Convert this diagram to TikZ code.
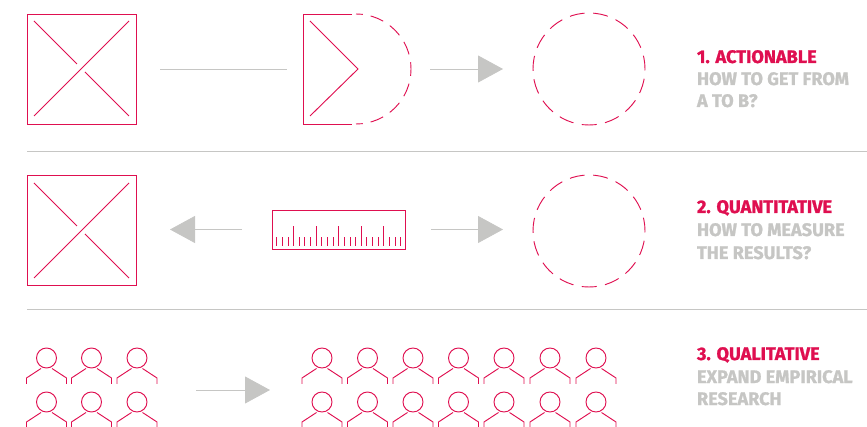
\documentclass[tikz,border=0pt]{standalone}
\usepackage{fontspec}
\setmainfont[BoldFeatures={FakeBold=1.2}]{Fira Sans}
\usepackage{xcolor}
\usetikzlibrary{arrows.meta, positioning}
\definecolor{signalred}{HTML}{DF0F50}
\definecolor{softgray}{HTML}{C6C6C4}
\newcommand{\px}{0.75pt}
\newcommand{\drawperson}[2]{%
\draw[redline] (#1,#2) circle[radius=10];
\draw[redline] (#1-5.5,#2+10.5) -- (#1-20,#2+20) -- (#1-20,#2+26);
\draw[redline] (#1+5.5,#2+10.5) -- (#1+20,#2+20) -- (#1+20,#2+26);
}
\tikzset{
redline/.style={draw=signalred,line width=0.7pt},
redbox/.style={redline,minimum width=109*\px,minimum height=110*\px},
ghostbox/.style={minimum width=108*\px,minimum height=110*\px},
dashring/.style={circle,draw=signalred,line width=0.7pt,dash pattern=on 15*\px off 8.47*\px,dash phase=1.6*\px,minimum size=112*\px},
rulerbox/.style={redline,minimum width=133*\px,minimum height=39*\px},
flowline/.style={draw=softgray,line width=0.6pt},
flowarrow/.style={flowline,-{Triangle[width=27*\px,length=25*\px]}},
headlabel/.style={anchor=base west,font=\bfseries\fontsize{13.6pt}{14pt}\selectfont,text=signalred},
sublabel/.style={anchor=base west,font=\bfseries\fontsize{13.6pt}{14pt}\selectfont,text=softgray},
}
\begin{document}
\begin{tikzpicture}[x=0.75pt,y=-0.75pt,inner sep=0pt,outer sep=0pt]
\useasboundingbox (0,0) rectangle (867,427);
% first row
\node[redbox] (boxA) at (81.5,69) {};
\node[ghostbox] (halfA) at (357,69) {};
\node[dashring] (ringA) at (589,69) {};
\draw[redline] (34,21) -- (77,64);
\draw[redline] (85,72) -- (129,116);
\draw[redline] (34,116) -- (129,21);
\draw[redline] (352,14) -- (303,14) -- (303,124) -- (352,124);
\draw[redline] (310,21) -- (358,69) -- (310,116);
\draw[redline,dash pattern=on 13.6*\px off 8*\px,dash phase=6.8*\px] (356,14) arc[start angle=-90,end angle=90,radius=55];
\draw[flowline,shorten <=24*\px,shorten >=16*\px] (boxA) -- (halfA);
\draw[flowarrow,shorten <=19*\px,shorten >=30*\px] (halfA) -- (ringA);
% second row
\node[redbox] (boxB) at (81.5,230.5) {};
\node[rulerbox] (rulerB) at (338.5,229.5) {};
\node[dashring] (ringB) at (589,231) {};
\foreach \i in {0,...,22}{
\pgfmathsetmacro{\tickx}{276.7+5.64*\i}
\pgfmathsetmacro{\ticktop}{mod(\i,4)==3 ? 226 : 236.7}
\draw[redline] (\tickx,245.7) -- (\tickx,\ticktop);
}
\draw[redline] (34,183) -- (77,226);
\draw[redline] (85,234) -- (129,278);
\draw[redline] (34,278) -- (129,183);
\draw[flowarrow,shorten <=30*\px,shorten >=88.5*\px] (rulerB.west) -- (rulerB -| boxB);
\draw[flowarrow,shorten <=26*\px,shorten >=86*\px] (rulerB.east) -- (rulerB -| ringB);
% third row
\foreach \py in {358,402}{
\foreach \cx in {46.5,91.5,137}{\drawperson{\cx}{\py}}
\foreach \cx in {322,367.5,413,458.5,504,550,596}{\drawperson{\cx}{\py}}
}
\coordinate (crowdC) at (157,390);
\coordinate (crowdD) at (302,390);
\draw[flowarrow,shorten <=39*\px,shorten >=32*\px] (crowdC) -- (crowdD);
% dividers
\coordinate (ruleAl) at (27,151);
\coordinate (ruleAr) at (867,151);
\coordinate (ruleBl) at (27,309);
\coordinate (ruleBr) at (867,309);
\draw[flowline] (ruleAl) -- (ruleAr);
\draw[flowline] (ruleBl) -- (ruleBr);
% labels
\node[headlabel] (headA) at (697,63) {1. ACTIONABLE};
\node[sublabel] (subA) at (697,85) {HOW TO GET FROM};
\node[sublabel] (subAb) at (697,107) {A TO B?};
\node[headlabel] (headB) at (697,213) {2. QUANTITATIVE};
\node[sublabel] (subB) at (697,236) {HOW TO MEASURE};
\node[sublabel] (subBb) at (697,259) {THE RESULTS?};
\node[headlabel] (headC) at (697,360) {3. QUALITATIVE};
\node[sublabel] (subC) at (697,383) {EXPAND EMPIRICAL};
\node[sublabel] (subCb) at (697,405) {RESEARCH};
\end{tikzpicture}
\end{document}
